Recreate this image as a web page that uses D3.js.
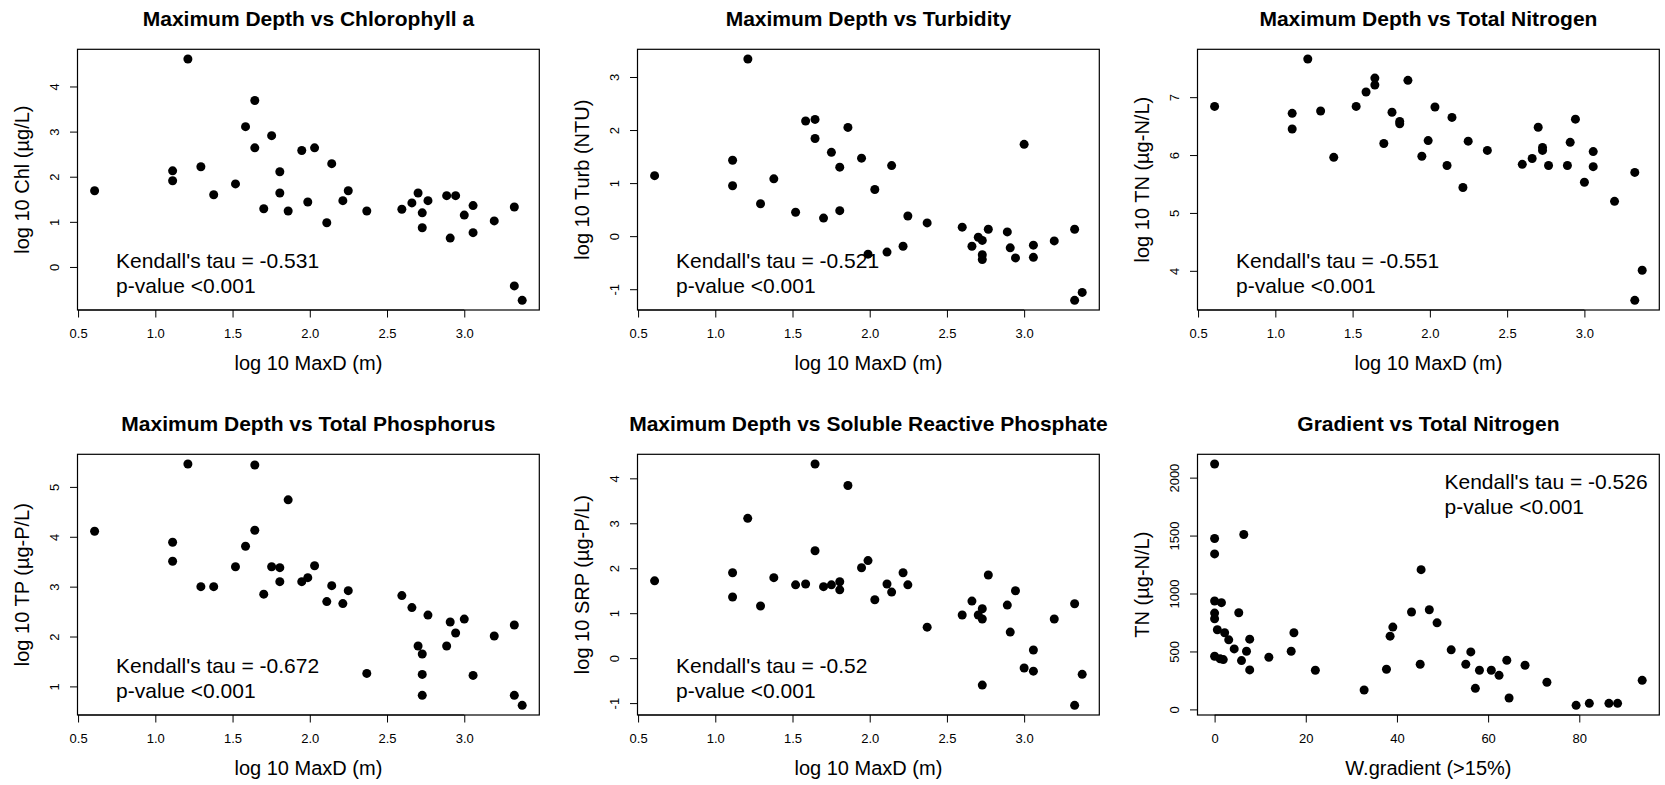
<!DOCTYPE html>
<html>
<head>
<meta charset="utf-8">
<title>depth vs water quality</title>
<script src="https://d3js.org/d3.v7.min.js"></script>
<style>
  body { margin: 0; background: #fff; }
  text { font-family: "Liberation Sans", Arial, sans-serif; fill: #000; }
</style>
</head>
<body>
<script>
var width = 1665, height = 785;
var svg = d3.select("body").append("svg")
    .attr("width", width)
    .attr("height", height);

// log10 MaxD (m) vs log10 chlorophyll a
var chlPts = [[0.607,1.69],[1.112,2.13],[1.112,1.91],[1.211,4.61],[1.295,2.22],[1.378,1.60],[1.519,1.84],[1.584,3.11],[1.644,3.69],[1.644,2.64],[1.702,1.29],[1.753,2.91],[1.806,2.11],[1.806,1.64],[1.860,1.24],[1.948,2.58],[1.987,1.44],[2.031,2.64],[2.110,0.98],[2.142,2.29],[2.214,1.47],[2.249,1.69],[2.369,1.24],[2.596,1.28],[2.661,1.42],[2.701,1.64],[2.728,1.20],[2.728,0.87],[2.765,1.47],[2.886,1.58],[2.909,0.64],[2.944,1.58],[3.000,1.15],[3.057,1.36],[3.057,0.76],[3.194,1.02],[3.324,1.33],[3.324,-0.42],[3.375,-0.74]];

// log10 MaxD vs log10 turbidity
var turbPts = [[0.607,1.14],[1.112,1.43],[1.112,0.95],[1.211,3.34],[1.293,0.61],[1.379,1.08],[1.520,0.45],[1.585,2.17],[1.646,2.20],[1.646,1.84],[1.701,0.34],[1.752,1.58],[1.806,1.30],[1.806,0.48],[1.859,2.05],[1.947,1.47],[1.989,-0.34],[2.033,0.88],[2.112,-0.30],[2.142,1.33],[2.216,-0.19],[2.247,0.38],[2.372,0.25],[2.599,0.17],[2.662,-0.19],[2.703,-0.02],[2.729,-0.08],[2.729,-0.35],[2.729,-0.44],[2.768,0.13],[2.891,0.08],[2.910,-0.22],[2.944,-0.41],[3.000,1.73],[3.060,-0.17],[3.060,-0.40],[3.195,-0.09],[3.327,0.13],[3.327,-1.21],[3.376,-1.06]];

// log10 MaxD vs log10 total nitrogen
var tnPts = [[0.607,6.84],[1.109,6.72],[1.109,6.45],[1.210,7.66],[1.293,6.76],[1.378,5.96],[1.523,6.84],[1.587,7.09],[1.644,7.33],[1.644,7.21],[1.702,6.20],[1.755,6.74],[1.805,6.58],[1.805,6.54],[1.858,7.29],[1.948,5.98],[1.989,6.25],[2.033,6.83],[2.111,5.82],[2.143,6.65],[2.214,5.44],[2.248,6.24],[2.372,6.08],[2.598,5.84],[2.662,5.94],[2.701,6.48],[2.729,6.13],[2.729,6.08],[2.768,5.82],[2.890,5.82],[2.908,6.22],[2.942,6.62],[3.000,5.53],[3.057,6.06],[3.057,5.80],[3.195,5.20],[3.326,5.70],[3.326,3.49],[3.374,4.01]];

// log10 MaxD vs log10 total phosphorus
var tpPts = [[0.607,4.11],[1.112,3.89],[1.112,3.51],[1.211,5.46],[1.295,3.00],[1.378,3.00],[1.519,3.40],[1.584,3.81],[1.644,5.44],[1.644,4.13],[1.702,2.85],[1.753,3.40],[1.806,3.38],[1.806,3.10],[1.860,4.74],[1.948,3.10],[1.987,3.18],[2.031,3.42],[2.110,2.70],[2.142,3.02],[2.214,2.66],[2.249,2.92],[2.369,1.26],[2.596,2.82],[2.661,2.58],[2.701,1.81],[2.728,1.65],[2.728,1.24],[2.728,0.82],[2.765,2.43],[2.886,1.81],[2.909,2.29],[2.944,2.07],[3.000,2.35],[3.057,1.22],[3.194,2.01],[3.324,2.23],[3.324,0.82],[3.375,0.62]];

// log10 MaxD vs log10 soluble reactive phosphate
var srpPts = [[0.607,1.72],[1.112,1.90],[1.112,1.36],[1.210,3.11],[1.293,1.16],[1.379,1.79],[1.520,1.63],[1.585,1.65],[1.646,4.32],[1.646,2.39],[1.701,1.59],[1.752,1.63],[1.806,1.70],[1.806,1.52],[1.859,3.84],[1.947,2.01],[1.989,2.17],[2.033,1.30],[2.112,1.65],[2.142,1.47],[2.216,1.90],[2.247,1.63],[2.372,0.69],[2.599,0.96],[2.662,1.27],[2.703,0.96],[2.729,1.10],[2.729,0.87],[2.729,-0.60],[2.768,1.85],[2.891,1.18],[2.910,0.58],[2.944,1.50],[3.000,-0.22],[3.060,0.18],[3.060,-0.29],[3.195,0.87],[3.327,1.21],[3.327,-1.05],[3.376,-0.36]];

// W.gradient (>15%) vs TN (ug-N/L)
var gradPts = [[0,2118],[0,1475],[0,1342],[0,935],[0,831],[0,782],[0,459],[0.6,687],[1.5,921],[1.2,436],[1.9,430],[2.2,661],[3.1,600],[4.3,522],[5.3,834],[5.9,421],[6.4,1509],[7.0,502],[7.7,606],[7.7,341],[11.9,450],[16.8,502],[17.4,661],[22.1,338],[32.8,167],[37.7,346],[38.5,632],[39.1,710],[43.2,840],[45.1,390],[45.3,1206],[47.1,860],[48.8,747],[51.9,514],[55.1,390],[56.2,496],[57.2,182],[58.1,338],[60.7,338],[62.4,294],[64.1,424],[64.6,98],[68.1,381],[72.9,234],[79.3,35],[82.2,52],[86.5,52],[88.4,52],[93.8,251]];

var depthTicks = [0.5, 1.0, 1.5, 2.0, 2.5, 3.0];
var gradTicks = [0, 20, 40, 60, 80];

var panels = [
  {title: "Maximum Depth vs Chlorophyll a", xlab: "log 10 MaxD (m)", ylab: "log 10 Chl (\u00b5g/L)",
   pts: chlPts, xt: depthTicks, yt: [0,1,2,3,4], tau: "-0.531", col: 0, row: 0, corner: "bl"},
  {title: "Maximum Depth vs Turbidity", xlab: "log 10 MaxD (m)", ylab: "log 10 Turb (NTU)",
   pts: turbPts, xt: depthTicks, yt: [-1,0,1,2,3], tau: "-0.521", col: 1, row: 0, corner: "bl"},
  {title: "Maximum Depth vs Total Nitrogen", xlab: "log 10 MaxD (m)", ylab: "log 10 TN (\u00b5g-N/L)",
   pts: tnPts, xt: depthTicks, yt: [4,5,6,7], tau: "-0.551", col: 2, row: 0, corner: "bl"},
  {title: "Maximum Depth vs Total Phosphorus", xlab: "log 10 MaxD (m)", ylab: "log 10 TP (\u00b5g-P/L)",
   pts: tpPts, xt: depthTicks, yt: [1,2,3,4,5], tau: "-0.672", col: 0, row: 1, corner: "bl"},
  {title: "Maximum Depth vs Soluble Reactive Phosphate", xlab: "log 10 MaxD (m)", ylab: "log 10 SRP (\u00b5g-P/L)",
   pts: srpPts, xt: depthTicks, yt: [-1,0,1,2,3,4], tau: "-0.52", col: 1, row: 1, corner: "bl"},
  {title: "Gradient vs Total Nitrogen", xlab: "W.gradient (>15%)", ylab: "TN (\u00b5g-N/L)",
   pts: gradPts, xt: gradTicks, yt: [0,500,1000,1500,2000], tau: "-0.526", col: 2, row: 1, corner: "tr"}
];

// plot box size, and where it sits in each cell
var bw = 461.8, bh = 260.7;
var cellW = 560, cellH = 405;
var offX = 77.5, offY = 49.3;

// R style axis range: data range plus 4% each side
function padded(ext) {
  var r = ext[1] - ext[0];
  return [ext[0] - 0.04 * r, ext[1] + 0.04 * r];
}

panels.forEach(drawPanel);

function drawPanel(p) {
  var g = svg.append("g")
      .attr("transform", "translate(" + (p.col * cellW + offX) + "," + (p.row * cellH + offY) + ")");

  var x = d3.scaleLinear().domain(padded(d3.extent(p.pts, d => d[0]))).range([0, bw]);
  var y = d3.scaleLinear().domain(padded(d3.extent(p.pts, d => d[1]))).range([bh, 0]);

  var xfmt = p.xt === depthTicks ? (d => d.toFixed(1)) : (d => String(d));

  // bottom axis
  var xa = g.append("g").attr("transform", "translate(0," + bh + ")")
      .call(d3.axisBottom(x).tickValues(p.xt).tickSize(7.5).tickFormat(xfmt));
  xa.select(".domain").remove();
  xa.selectAll("text").attr("y", 28.3).attr("dy", null)
      .style("font-size", "13px").style("font-family", "'Liberation Sans', Arial, sans-serif");
  xa.append("line")
      .attr("x1", x(p.xt[0])).attr("x2", x(p.xt[p.xt.length - 1]))
      .attr("stroke", "#000");

  // left axis, labels turned like R
  var ya = g.append("g")
      .call(d3.axisLeft(y).tickValues(p.yt).tickSize(7.5).tickFormat(d => String(d)));
  ya.select(".domain").remove();
  ya.selectAll("text")
      .attr("x", 0).attr("dy", null)
      .attr("text-anchor", "middle")
      .attr("transform", "translate(-18.5,0) rotate(-90)")
      .style("font-size", "13px").style("font-family", "'Liberation Sans', Arial, sans-serif");
  ya.append("line")
      .attr("y1", y(p.yt[0])).attr("y2", y(p.yt[p.yt.length - 1]))
      .attr("stroke", "#000");

  g.append("rect")
      .attr("width", bw).attr("height", bh)
      .attr("fill", "none").attr("stroke", "#000").attr("stroke-width", 1.2);

  g.selectAll("circle.pt").data(p.pts).join("circle")
      .attr("class", "pt")
      .attr("cx", d => x(d[0]))
      .attr("cy", d => y(d[1]))
      .attr("r", 4.5)
      .attr("fill", "#000");

  g.append("text")
      .attr("x", bw / 2).attr("y", -23.5)
      .attr("text-anchor", "middle")
      .style("font-size", "21px").style("font-weight", "bold")
      .text(p.title);

  g.append("text")
      .attr("x", bw / 2).attr("y", bh + 60)
      .attr("text-anchor", "middle")
      .style("font-size", "20px")
      .text(p.xlab);

  g.append("text")
      .attr("transform", "translate(-48.8," + (bh / 2) + ") rotate(-90)")
      .attr("text-anchor", "middle")
      .style("font-size", "20px")
      .text(p.ylab);

  // Kendall annotation
  var tx = p.corner === "tr" ? 247 : 38.6;
  var ty = p.corner === "tr" ? 34.4 : bh - 41.7;
  g.append("text").attr("x", tx).attr("y", ty)
      .style("font-size", "21px")
      .text("Kendall's tau = " + p.tau);
  g.append("text").attr("x", tx).attr("y", ty + 25)
      .style("font-size", "21px")
      .text("p-value <0.001");
}
</script>
</body>
</html>
